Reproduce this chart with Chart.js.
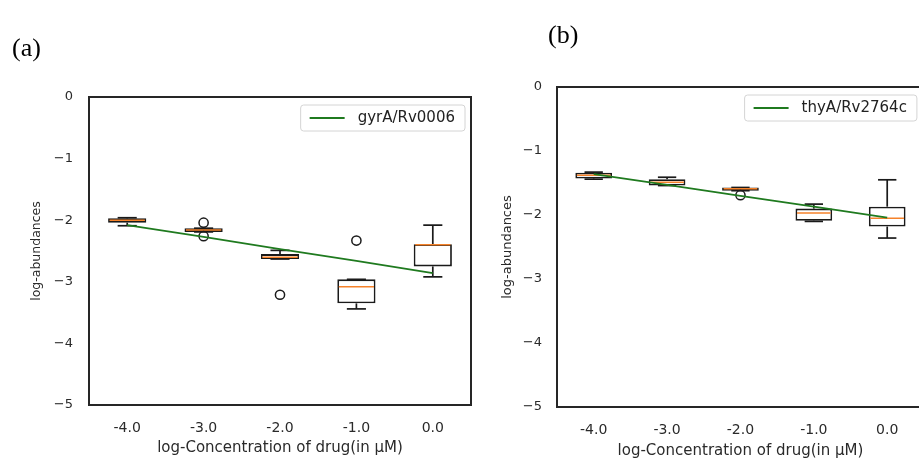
<!DOCTYPE html>
<html><head><meta charset="utf-8">
<script src="https://cdn.jsdelivr.net/npm/chart.js@4.4.1/dist/chart.umd.min.js"></script>
<style>
html,body{margin:0;padding:0;width:919px;height:462px;overflow:hidden;background:#fff;}
#wa{position:absolute;left:0;top:0;width:480px;height:462px;}
#wb{position:absolute;left:480px;top:0;width:450px;height:462px;}
.lbl{position:absolute;font-family:"Liberation Serif","Times New Roman",serif;font-size:26px;color:#000;line-height:1;}
</style></head><body>
<div id="wa"><canvas id="ca" width="480" height="462"></canvas></div>
<div id="wb"><canvas id="cb" width="450" height="462"></canvas></div>
<div class="lbl" style="left:12px;top:35px">(a)</div>
<div class="lbl" style="left:548px;top:22px">(b)</div>
<script>
const categories = ['-4.0', '-3.0', '-2.0', '-1.0', '0.0'];
const yTickLabels = ['\u22125', '\u22124', '\u22123', '\u22122', '\u22121', '0'];
const xTitle = 'log-Concentration of drug(in \u03bcM)';
const yTitle = 'log-abundances';

// panel (a)
const aSeries = 'gyrA/Rv0006';
const aWhiskerLow  = [-2.09, -2.19, -2.63, -3.44, -2.92];
const aQ1          = [-2.04, -2.19, -2.63, -3.35, -2.75];
const aMedian      = [-2.00, -2.16, -2.60, -3.08, -2.40];
const aQ3          = [-1.97, -2.13, -2.55, -2.96, -2.39];
const aWhiskerHigh = [-1.96, -2.13, -2.49, -2.96, -2.08];
const aOutlierCat  = ['-3.0', '-3.0', '-2.0', '-1.0'];
const aOutlierVal  = [-2.04, -2.26, -3.21, -2.33];
const aFit         = [-2.08, -2.27, -2.47, -2.66, -2.86];

// panel (b)
const bSeries = 'thyA/Rv2764c';
const bWhiskerLow  = [-1.44, -1.54, -1.62, -2.10, -2.36];
const bQ1          = [-1.43, -1.54, -1.62, -2.09, -2.18];
const bMedian      = [-1.38, -1.49, -1.59, -1.97, -2.05];
const bQ3          = [-1.34, -1.44, -1.57, -1.90, -1.87];
const bWhiskerHigh = [-1.33, -1.41, -1.57, -1.83, -1.45];
const bOutlierCat  = ['-2.0'];
const bOutlierVal  = [-1.69];
const bFit         = [-1.36, -1.53, -1.70, -1.87, -2.04];

const FONT = "'DejaVu Sans', 'Liberation Sans', sans-serif";
const GREEN = '#1f7a1f';

const boxExtras = {
  id: 'boxExtras',
  afterDatasetDraw(chart, args, o) {
    if (args.index !== 0) return;
    const ctx = chart.ctx, xs = chart.scales.x, ys = chart.scales.y;
    const seg = (x1, y1, x2, y2) => { ctx.beginPath(); ctx.moveTo(x1, y1); ctx.lineTo(x2, y2); ctx.stroke(); };
    ctx.save();
    o.q1.forEach((_, i) => {
      const cx = xs.getPixelForValue(i);
      const w = args.meta.data[i].width;
      const cap = w / 2;
      ctx.strokeStyle = '#1a1a1a'; ctx.lineWidth = 1.7;
      const yHi = ys.getPixelForValue(o.hi[i]), yLo = ys.getPixelForValue(o.lo[i]);
      const yQ1 = ys.getPixelForValue(o.q1[i]), yQ3 = ys.getPixelForValue(o.q3[i]);
      seg(cx, yQ3, cx, yHi); seg(cx - cap / 2, yHi, cx + cap / 2, yHi);
      seg(cx, yQ1, cx, yLo); seg(cx - cap / 2, yLo, cx + cap / 2, yLo);
      ctx.strokeStyle = '#f5822a'; ctx.lineWidth = 1.5;
      const ym = ys.getPixelForValue(o.med[i]);
      seg(cx - w / 2 + 1.5, ym, cx + w / 2 - 1.5, ym);
    });
    ctx.restore();
  },
  afterDraw(chart, args, o) {
    const ctx = chart.ctx, a = chart.chartArea;
    ctx.save();
    ctx.strokeStyle = '#262626'; ctx.lineWidth = 2;
    ctx.strokeRect(a.left, a.top, a.right - a.left, a.bottom - a.top);
    // legend
    ctx.font = '15px ' + FONT;
    const tw = ctx.measureText(o.label).width;
    const w = 9 + 35 + 13 + tw + 10, h = 26;
    const x0 = a.right - o.legRight - w, y0 = a.top + 8;
    ctx.beginPath();
    if (ctx.roundRect) ctx.roundRect(x0, y0, w, h, 3); else ctx.rect(x0, y0, w, h);
    ctx.fillStyle = 'rgba(255,255,255,0.85)'; ctx.fill();
    ctx.strokeStyle = '#d4d4d4'; ctx.lineWidth = 1; ctx.stroke();
    ctx.strokeStyle = GREEN; ctx.lineWidth = 2;
    ctx.beginPath(); ctx.moveTo(x0 + 9, y0 + h / 2); ctx.lineTo(x0 + 44, y0 + h / 2); ctx.stroke();
    ctx.fillStyle = '#222'; ctx.textBaseline = 'middle'; ctx.textAlign = 'left';
    ctx.fillText(o.label, x0 + 57, y0 + h / 2 + 0.5);
    ctx.restore();
  }
};

function makeChart(id, d, lay) {
  return new Chart(document.getElementById(id), {
    type: 'bar',
    data: {
      labels: categories,
      datasets: [
        { type: 'bar', data: categories.map((c, i) => [d.q1[i], d.q3[i]]),
          backgroundColor: '#ffffff', borderColor: '#1a1a1a', borderWidth: 1.8,
          borderSkipped: false, barPercentage: 0.5, categoryPercentage: 1.0, order: 3 },
        { type: 'line', data: d.oc.map((c, i) => ({ x: c, y: d.ov[i] })), showLine: false,
          pointRadius: 4.6, pointBorderWidth: 1.5, pointBorderColor: '#1a1a1a',
          pointBackgroundColor: 'rgba(0,0,0,0)', order: 2 },
        { type: 'line', data: d.fit, borderColor: GREEN, borderWidth: 1.8, pointRadius: 0,
          fill: false, tension: 0, order: 1 }
      ]
    },
    options: {
      responsive: false, animation: false, devicePixelRatio: 1,
      layout: { padding: { top: lay.top, right: lay.right, bottom: 0, left: 0 } },
      plugins: { legend: { display: false }, tooltip: { enabled: false },
        boxExtras: { q1: d.q1, q3: d.q3, med: d.med, lo: d.lo, hi: d.hi, label: d.label, legRight: lay.legRight } },
      scales: {
        x: { type: 'category', offset: true,
          grid: { display: false, drawTicks: false, tickLength: 0 }, border: { display: false },
          ticks: { color: '#2a2a2a', font: { family: FONT, size: 14 }, padding: lay.xPad, maxRotation: 0, autoSkip: false },
          title: { display: true, text: xTitle, color: '#2a2a2a', font: { family: FONT, size: 15 }, padding: { top: 0, bottom: lay.xTitlePad } },
          afterFit: s => { s.height = lay.xHeight; } },
        y: { type: 'linear', min: -5, max: 0,
          grid: { display: false, drawTicks: false, tickLength: 0 }, border: { display: false },
          ticks: { stepSize: 1, color: '#2a2a2a', font: { family: FONT, size: 13 }, padding: lay.yPad,
            callback: (v, i) => yTickLabels[i] },
          title: { display: true, text: yTitle, color: '#2a2a2a', font: { family: FONT, size: lay.yTitleSize }, padding: { top: lay.yTitlePad, bottom: 0 } },
          afterFit: s => { s.width = lay.yWidth; } }
      }
    },
    plugins: [boxExtras]
  });
}

makeChart('ca',
  { q1: aQ1, q3: aQ3, med: aMedian, lo: aWhiskerLow, hi: aWhiskerHigh, oc: aOutlierCat, ov: aOutlierVal, fit: aFit, label: aSeries },
  { top: 97, right: 9, xHeight: 57, yWidth: 89, xPad: 15, yPad: 16, xTitlePad: 5, yTitlePad: 29, yTitleSize: 12.5, legRight: 6 });
makeChart('cb',
  { q1: bQ1, q3: bQ3, med: bMedian, lo: bWhiskerLow, hi: bWhiskerHigh, oc: bOutlierCat, ov: bOutlierVal, fit: bFit, label: bSeries },
  { top: 87, right: 5.5, xHeight: 55, yWidth: 77, xPad: 15, yPad: 15, xTitlePad: 2, yTitlePad: 20, yTitleSize: 13, legRight: 7 });
</script>
</body></html>
